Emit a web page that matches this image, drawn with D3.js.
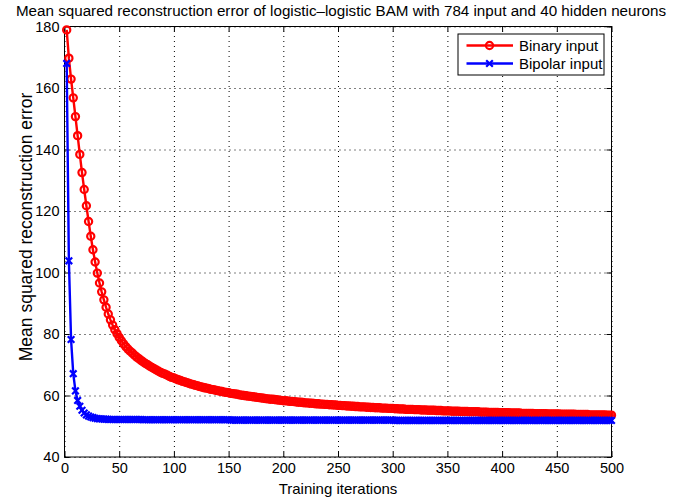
<!DOCTYPE html>
<html>
<head>
<meta charset="utf-8">
<script src="https://cdn.jsdelivr.net/npm/d3@7"></script>
<style>
  body { margin: 0; background: #fff; }
  text { font-family: "Liberation Sans", Arial, Helvetica, sans-serif; fill: #000; }
</style>
</head>
<body>
<div id="chart"></div>
<script>

// Data (one value every 2 iterations)
var seriesNames = ["Binary input", "Bipolar input"];
var xTicks = [0, 50, 100, 150, 200, 250, 300, 350, 400, 450, 500];
var yTicks = [40, 60, 80, 100, 120, 140, 160, 180];
var iterations = d3.range(2, 501, 2);

var binaryError = [
  178.9, 169.7, 162.9, 156.8, 150.7, 144.5, 138.4, 132.5, 127.0, 121.7,
  116.6, 111.8, 107.4, 103.4, 99.8, 96.6, 93.7, 91.1, 88.7, 86.5,
  84.6, 82.9, 81.4, 80.1, 78.9, 77.8, 76.8, 75.9, 75.1, 74.4,
  73.8, 73.1, 72.5, 72.0, 71.4, 70.9, 70.4, 70.0, 69.5, 69.1,
  68.7, 68.3, 67.9, 67.5, 67.2, 66.9, 66.6, 66.2, 65.9, 65.7,
  65.4, 65.1, 64.9, 64.6, 64.4, 64.2, 63.9, 63.7, 63.5, 63.3,
  63.1, 62.9, 62.7, 62.5, 62.4, 62.2, 62.0, 61.9, 61.7, 61.6,
  61.4, 61.3, 61.1, 61.0, 60.9, 60.7, 60.6, 60.5, 60.4, 60.2,
  60.1, 60.0, 59.9, 59.8, 59.7, 59.6, 59.5, 59.4, 59.3, 59.2,
  59.1, 59.0, 58.9, 58.8, 58.8, 58.7, 58.6, 58.5, 58.4, 58.3,
  58.3, 58.2, 58.1, 58.1, 58.0, 57.9, 57.8, 57.8, 57.7, 57.6,
  57.6, 57.5, 57.5, 57.4, 57.3, 57.3, 57.2, 57.2, 57.1, 57.1,
  57.0, 57.0, 56.9, 56.9, 56.8, 56.8, 56.7, 56.7, 56.6, 56.6,
  56.5, 56.5, 56.4, 56.4, 56.3, 56.3, 56.3, 56.2, 56.2, 56.1,
  56.1, 56.0, 56.0, 56.0, 55.9, 55.9, 55.9, 55.8, 55.8, 55.8,
  55.7, 55.7, 55.6, 55.6, 55.6, 55.5, 55.5, 55.5, 55.5, 55.4,
  55.4, 55.4, 55.3, 55.3, 55.3, 55.2, 55.2, 55.2, 55.2, 55.1,
  55.1, 55.1, 55.0, 55.0, 55.0, 55.0, 54.9, 54.9, 54.9, 54.9,
  54.8, 54.8, 54.8, 54.8, 54.7, 54.7, 54.7, 54.7, 54.7, 54.6,
  54.6, 54.6, 54.6, 54.5, 54.5, 54.5, 54.5, 54.5, 54.4, 54.4,
  54.4, 54.4, 54.4, 54.3, 54.3, 54.3, 54.3, 54.3, 54.2, 54.2,
  54.2, 54.2, 54.2, 54.2, 54.1, 54.1, 54.1, 54.1, 54.1, 54.1,
  54.0, 54.0, 54.0, 54.0, 54.0, 54.0, 53.9, 53.9, 53.9, 53.9,
  53.9, 53.9, 53.9, 53.8, 53.8, 53.8, 53.8, 53.8, 53.8, 53.7,
  53.7, 53.7, 53.7, 53.7, 53.7, 53.7, 53.7, 53.6, 53.6, 53.6
];

var bipolarError = [
  168.0, 103.8, 78.2, 67.1, 61.5, 58.4, 56.5, 55.2, 54.3, 53.7,
  53.3, 53.0, 52.8, 52.6, 52.5, 52.4, 52.35, 52.3, 52.3, 52.25,
  52.2, 52.2, 52.2, 52.2, 52.2, 52.2, 52.2, 52.2, 52.2, 52.2,
  52.2, 52.2, 52.2, 52.2, 52.2, 52.1, 52.1, 52.1, 52.1, 52.1,
  52.1, 52.1, 52.1, 52.1, 52.1, 52.1, 52.1, 52.1, 52.1, 52.1,
  52.1, 52.1, 52.1, 52.1, 52.1, 52.1, 52.1, 52.1, 52.1, 52.1,
  52.1, 52.1, 52.1, 52.1, 52.1, 52.1, 52.1, 52.1, 52.1, 52.1,
  52.1, 52.1, 52.1, 52.1, 52.1, 52.0, 52.0, 52.0, 52.0, 52.0,
  52.0, 52.0, 52.0, 52.0, 52.0, 52.0, 52.0, 52.0, 52.0, 52.0,
  52.0, 52.0, 52.0, 52.0, 52.0, 52.0, 52.0, 52.0, 52.0, 52.0,
  52.0, 52.0, 52.0, 52.0, 52.0, 52.0, 52.0, 52.0, 52.0, 52.0,
  52.0, 52.0, 52.0, 52.0, 52.0, 52.0, 52.0, 52.0, 52.0, 52.0,
  52.0, 52.0, 52.0, 52.0, 52.0, 52.0, 52.0, 52.0, 52.0, 52.0,
  52.0, 52.0, 52.0, 52.0, 52.0, 52.0, 52.0, 52.0, 52.0, 52.0,
  52.0, 52.0, 52.0, 52.0, 52.0, 52.0, 52.0, 52.0, 52.0, 52.0,
  51.9, 51.9, 51.9, 51.9, 51.9, 51.9, 51.9, 51.9, 51.9, 51.9,
  51.9, 51.9, 51.9, 51.9, 51.9, 51.9, 51.9, 51.9, 51.9, 51.9,
  51.9, 51.9, 51.9, 51.9, 51.9, 51.9, 51.9, 51.9, 51.9, 51.9,
  51.9, 51.9, 51.9, 51.9, 51.9, 51.9, 51.9, 51.9, 51.9, 51.9,
  51.9, 51.9, 51.9, 51.9, 51.9, 51.9, 51.9, 51.9, 51.9, 51.9,
  51.9, 51.9, 51.9, 51.9, 51.9, 51.9, 51.9, 51.9, 51.9, 51.9,
  51.9, 51.9, 51.9, 51.9, 51.9, 51.9, 51.9, 51.9, 51.9, 51.9,
  51.9, 51.9, 51.9, 51.9, 51.9, 51.9, 51.9, 51.9, 51.9, 51.9,
  51.9, 51.9, 51.9, 51.9, 51.9, 51.9, 51.9, 51.9, 51.9, 51.9,
  51.9, 51.9, 51.9, 51.9, 51.9, 51.9, 51.9, 51.9, 51.9, 51.9
];

var titleText = "Mean squared reconstruction error of logistic\u2013logistic BAM with 784 input and 40 hidden neurons";
var xLabel = "Training iterations";
var yLabel = "Mean squared reconstruction error";

// Exposed variables
var attrs = {
  svgWidth: 675,
  svgHeight: 500,
  marginTop: 26.5,
  marginLeft: 64.5,
  marginRight: 63.5,
  marginBottom: 43,
  tickFontSize: 14.5,
  titleFontSize: 15.2,
  xLabelFontSize: 15,
  yLabelFontSize: 17.5,
  legendFontSize: 15,
  tickSize: 5,
  colors: ["#ff0000", "#0000ff"]
};

//Calculated properties
var calc = {};
calc.chartWidth = attrs.svgWidth - attrs.marginLeft - attrs.marginRight;
calc.chartHeight = attrs.svgHeight - attrs.marginTop - attrs.marginBottom;

//Scales
var scales = {};
scales.x = d3.scaleLinear().domain([0, 500]).range([0, calc.chartWidth]);
scales.y = d3.scaleLinear().domain([40, 180]).range([calc.chartHeight, 0]);

var series = [
  { name: seriesNames[0], values: binaryError, color: attrs.colors[0], marker: "circle" },
  { name: seriesNames[1], values: bipolarError, color: attrs.colors[1], marker: "cross" }
];

//Add svg
var svg = d3.select("#chart").append("svg")
  .attr("width", attrs.svgWidth)
  .attr("height", attrs.svgHeight);

var chart = svg.append("g")
  .attr("transform", "translate(" + attrs.marginLeft + "," + attrs.marginTop + ")");

//Grid lines (dotted, matlab style)
chart.append("g")
  .attr("class", "grid")
  .attr("transform", "translate(0," + calc.chartHeight + ")")
  .call(d3.axisBottom(scales.x).tickValues(xTicks).tickSize(-calc.chartHeight).tickFormat(""));
chart.append("g")
  .attr("class", "grid")
  .call(d3.axisLeft(scales.y).tickValues(yTicks).tickSize(-calc.chartWidth).tickFormat(""));
chart.selectAll(".grid .domain").remove();
chart.selectAll(".grid line")
  .attr("stroke", "#555")
  .attr("stroke-width", 1)
  .attr("stroke-dasharray", "1,4");

//Axes with inward ticks on all four sides
chart.append("g")
  .attr("transform", "translate(0," + calc.chartHeight + ")")
  .call(d3.axisBottom(scales.x).tickValues(xTicks).tickSizeInner(-attrs.tickSize).tickSizeOuter(0).tickPadding(6));
chart.append("g")
  .call(d3.axisLeft(scales.y).tickValues(yTicks).tickSizeInner(-attrs.tickSize).tickSizeOuter(0).tickPadding(5));
chart.append("g")
  .call(d3.axisTop(scales.x).tickValues(xTicks).tickSizeInner(-attrs.tickSize).tickSizeOuter(0).tickFormat(""));
chart.append("g")
  .attr("transform", "translate(" + calc.chartWidth + ",0)")
  .call(d3.axisRight(scales.y).tickValues(yTicks).tickSizeInner(-attrs.tickSize).tickSizeOuter(0).tickFormat(""));
chart.selectAll(".domain").remove();
chart.selectAll(".tick text")
  .style("font-size", attrs.tickFontSize + "px")
  .style("font-family", "'Liberation Sans', Arial, sans-serif");
chart.selectAll(".tick line").attr("stroke", "#000");

//Box
chart.append("rect")
  .attr("width", calc.chartWidth)
  .attr("height", calc.chartHeight)
  .attr("fill", "none")
  .attr("stroke", "#000")
  .attr("stroke-width", 1);

//Lines and markers
var line = d3.line()
  .x(function (d, i) { return scales.x(iterations[i]); })
  .y(function (d) { return scales.y(d); });

function drawMarker(sel, type, color) {
  if (type === "circle") {
    sel.append("circle")
      .attr("r", 3.6)
      .attr("fill", "none")
      .attr("stroke", color)
      .attr("stroke-width", 2.2);
  } else {
    sel.append("path")
      .attr("d", "M-3.3,-3.3L3.3,3.3M-3.3,3.3L3.3,-3.3")
      .attr("fill", "none")
      .attr("stroke", color)
      .attr("stroke-width", 2.2);
  }
}

series.forEach(function (s) {
  var g = chart.append("g").attr("class", "series");
  g.append("path")
    .attr("d", line(s.values))
    .attr("fill", "none")
    .attr("stroke", s.color)
    .attr("stroke-width", 2.4);
  g.selectAll(".marker")
    .data(s.values)
    .enter().append("g")
    .attr("class", "marker")
    .attr("transform", function (d, i) {
      return "translate(" + scales.x(iterations[i]) + "," + scales.y(d) + ")";
    })
    .call(drawMarker, s.marker, s.color);
});

//Legend
var legend = chart.append("g")
  .attr("transform", "translate(" + (calc.chartWidth - 153.5) + ",7.5)");
legend.append("rect")
  .attr("width", 146)
  .attr("height", 41)
  .attr("fill", "#fff")
  .attr("stroke", "#000")
  .attr("stroke-width", 1);
var legendItems = legend.selectAll(".legend-item")
  .data(series)
  .enter().append("g")
  .attr("class", "legend-item")
  .attr("transform", function (d, i) { return "translate(0," + (11.5 + i * 18) + ")"; });
legendItems.append("line")
  .attr("x1", 8.5).attr("x2", 55)
  .attr("stroke", function (d) { return d.color; })
  .attr("stroke-width", 2.4);
legendItems.append("g")
  .attr("transform", "translate(31.5,0)")
  .each(function (d) { d3.select(this).call(drawMarker, d.marker, d.color); });
legendItems.append("text")
  .attr("x", 61)
  .attr("dy", "0.36em")
  .style("font-size", attrs.legendFontSize + "px")
  .text(function (d) { return d.name; });

//Title and axis labels
svg.append("text")
  .attr("x", attrs.marginLeft + calc.chartWidth / 2 + 3)
  .attr("y", 16)
  .attr("text-anchor", "middle")
  .style("font-size", attrs.titleFontSize + "px")
  .text(titleText);
svg.append("text")
  .attr("x", attrs.marginLeft + calc.chartWidth / 2)
  .attr("y", 494)
  .attr("text-anchor", "middle")
  .style("font-size", attrs.xLabelFontSize + "px")
  .text(xLabel);
svg.append("text")
  .attr("transform", "translate(32,227) rotate(-90)")
  .attr("text-anchor", "middle")
  .style("font-size", attrs.yLabelFontSize + "px")
  .text(yLabel);

</script>
</body>
</html>
